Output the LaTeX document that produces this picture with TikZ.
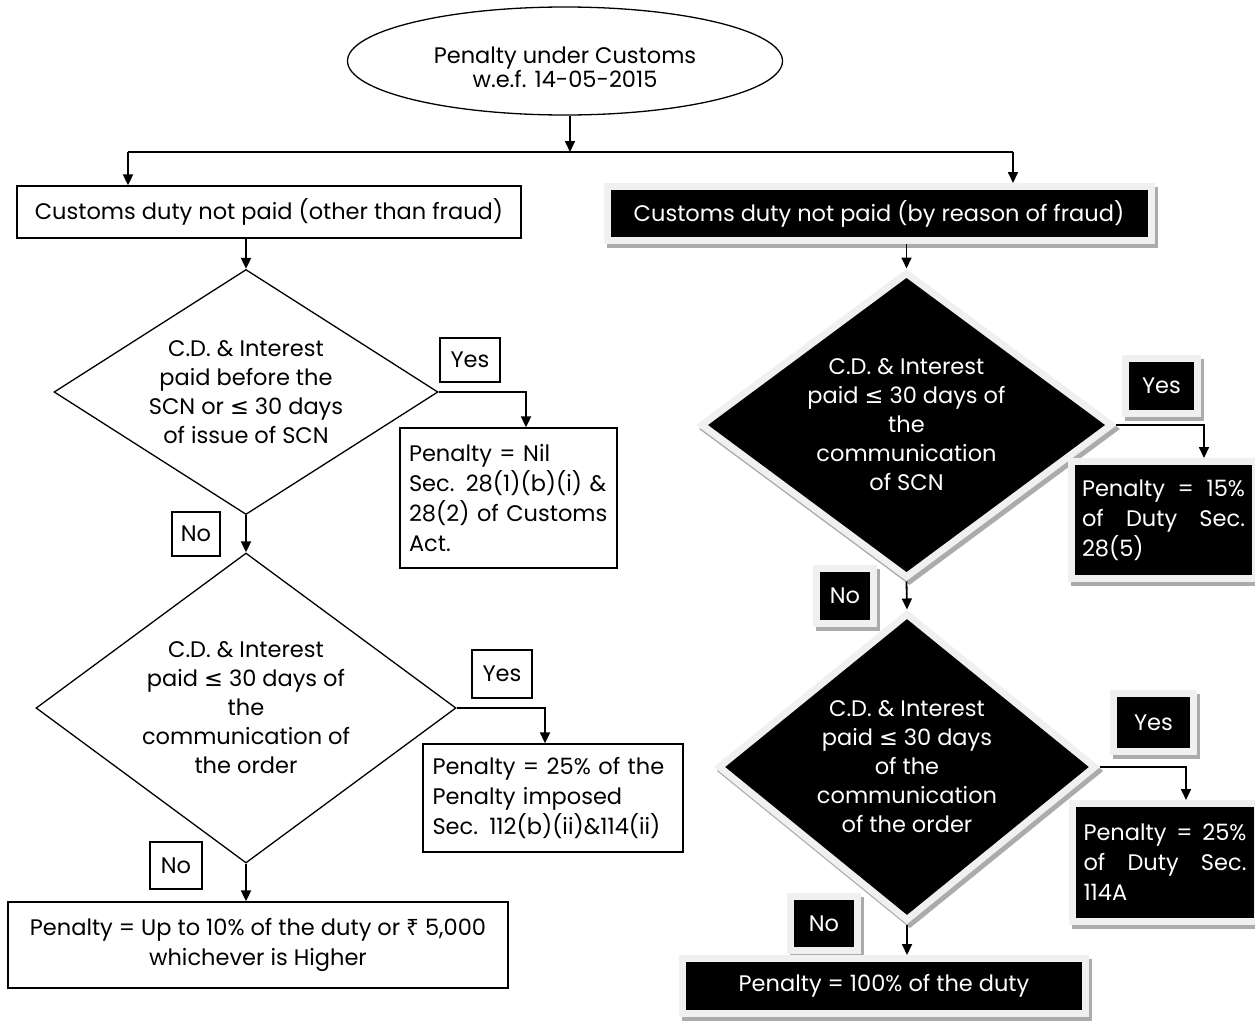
\documentclass[tikz,border=0pt]{standalone}
\usepackage{fontspec}
\setmainfont{Poppins}
\newfontfamily\symf{DejaVu Sans}
\newfontfamily\rupf{Noto Sans}
\usetikzlibrary{arrows.meta,shapes.geometric}
\newcommand{\leqsym}{{\symf ≤}}
\newcommand{\rupsym}{{\rupf ₹}}
\tikzset{
  arr/.style={-{Triangle[width=10pt,length=11pt]}, line width=1.8pt},
  ln/.style={line width=1.8pt},
  wbox/.style={draw, line width=1.3pt, fill=white, inner sep=0pt, align=center},
  wdia/.style={diamond, draw, line width=1.3pt, fill=white, inner sep=0pt, align=center},
  shade/.style={preaction={fill=black!33, draw=black!33, line width=7pt,
      transform canvas={shift={(3pt,-4pt)}}}},
  bbox/.style={shade, draw=black!6, line width=7pt, fill=black, text=white,
      inner sep=0pt, align=center},
  bdia/.style={diamond, shade, draw=black!6, line width=7pt, fill=black, text=white,
      inner sep=0pt, align=center},
}
\begin{document}
\begin{tikzpicture}[x=1pt,y=-1pt,font=\fontsize{22.5}{29}\selectfont]
\useasboundingbox[fill=white] (0,0) rectangle (1255,1020);

% title
\node[ellipse, draw, line width=1.3pt, minimum width=435pt, minimum height=108pt,
      inner sep=0pt, align=center, text height=54pt, font=\fontsize{22.5}{24}\selectfont]
      (title) at (565,61) {Penalty under Customs\\w.e.f. 14-05-2015};
\coordinate (split) at (570,152);
\coordinate (jl) at (128,152);
\coordinate (jr) at (1013,152);

% left column
\node[wbox, minimum width=504pt, minimum height=52pt] (lbox) at (269,212)
  {Customs duty not paid (other than fraud)};
\node[wdia, aspect=1.57, minimum width=384pt, minimum height=245pt] (d1) at (246,392)
  {C.D. \& Interest\\paid before the\\SCN or \leqsym{} 30 days\\of issue of SCN};
\node[wbox, minimum width=60pt, minimum height=44pt] (y1) at (470,360) {Yes};
\node[wbox, minimum width=217pt, minimum height=140pt, text width=199pt, align=left, inner xsep=9pt,
      font=\fontsize{22.5}{30}\selectfont] (p1) at (508.5,498)
  {Penalty = Nil\\\makebox[199pt][s]{Sec. 28(1)(b)(i) \&}\\\makebox[199pt][s]{28(2) of Customs}\\Act.};
\node[wbox, minimum width=48pt, minimum height=44pt] (n1) at (196,534) {No};
\node[wdia, aspect=1.35, minimum width=420pt, minimum height=310pt] (d2) at (246,708)
  {C.D. \& Interest\\paid \leqsym{} 30 days of\\the\\communication of\\the order};
\node[wbox, minimum width=60pt, minimum height=48pt] (y2) at (502,674) {Yes};
\node[wbox, minimum width=260pt, minimum height=108pt, text width=241pt, align=left, inner xsep=9.5pt,
      font=\fontsize{22.5}{30}\selectfont] (p2) at (553,798)
  {Penalty = 25\% of the\\Penalty imposed\\Sec. 112(b)(ii)\&114(ii)};
\node[wbox, minimum width=52pt, minimum height=47pt] (n2) at (176,865.5) {No};
\node[wbox, minimum width=500pt, minimum height=86pt, font=\fontsize{22.5}{30}\selectfont] (p3) at (258,945)
  {Penalty = Up to 10\% of the duty or \rupsym{} 5,000\\whichever is Higher};

% right column
\node[bbox, minimum width=544pt, minimum height=54pt] (rbox) at (879,213.5)
  {Customs duty not paid (by reason of fraud)};
\node[bdia, aspect=1.37, minimum width=412pt, minimum height=306pt] (dr1) at (906.5,425)
  {C.D. \& Interest\\paid \leqsym{} 30 days of\\the\\communication\\of SCN};
\node[bbox, minimum width=72pt, minimum height=55pt] (yr1) at (1161.5,386) {Yes};
\node[bbox, minimum width=184pt, minimum height=117pt, text width=163pt, align=left, inner xsep=10.5pt,
      font=\fontsize{22.5}{30}\selectfont] (pr1) at (1163.5,520)
  {\makebox[163pt][l]{Penalty\hfill=\hfill15\%}\\\makebox[163pt][l]{of\hfill Duty\hfill Sec.}\\28(5)};
\node[bbox, minimum width=57pt, minimum height=55pt] (nr1) at (845,596) {No};
\node[bdia, aspect=1.23, minimum width=378pt, minimum height=308pt] (dr2) at (907,767)
  {C.D. \& Interest\\paid \leqsym{} 30 days\\of the\\communication\\of the order};
\node[bbox, minimum width=80pt, minimum height=58pt] (yr2) at (1153.5,722.5) {Yes};
\node[bbox, minimum width=185pt, minimum height=118pt, text width=163pt, align=left, inner xsep=11pt,
      font=\fontsize{22.5}{30}\selectfont] (pr2) at (1165,862.5)
  {\makebox[163pt][l]{Penalty\hfill=\hfill25\%}\\\makebox[163pt][l]{of\hfill Duty\hfill Sec.}\\114A};
\node[bbox, minimum width=67pt, minimum height=54pt] (nr2) at (824,923.5) {No};
\node[bbox, minimum width=403pt, minimum height=55pt] (pr3) at (884,986)
  {Penalty = 100\% of the duty};

% connectors
\draw[arr] ([xshift=5pt]title.south) -- (split);
\draw[ln] (jl) -- (jr);
\draw[arr] (jl) -- (jl |- lbox.north);
\draw[arr] (jr) -- (jr |- rbox.north);

\draw[arr] (d1.north |- lbox.south) -- (d1.north);
\draw[arr] (d1.east) -| ([xshift=17.5pt]p1.north);
\draw[arr] (d1.south) -- (d2.north);
\draw[arr] (d2.east) -| ([xshift=-8pt]p2.north);
\draw[arr] (d2.south) -- (d2.south |- p3.north);

\draw[arr] (dr1.north |- rbox.south) -- (dr1.north);
\draw[arr] (dr1.east) -| ([xshift=40.5pt]pr1.north);
\draw[arr] (dr1.south) -- (dr2.north);
\draw[arr] (dr2.east) -| ([xshift=21pt]pr2.north);
\draw[arr] (dr2.south) -- (dr2.south |- pr3.north);
\end{tikzpicture}
\end{document}
